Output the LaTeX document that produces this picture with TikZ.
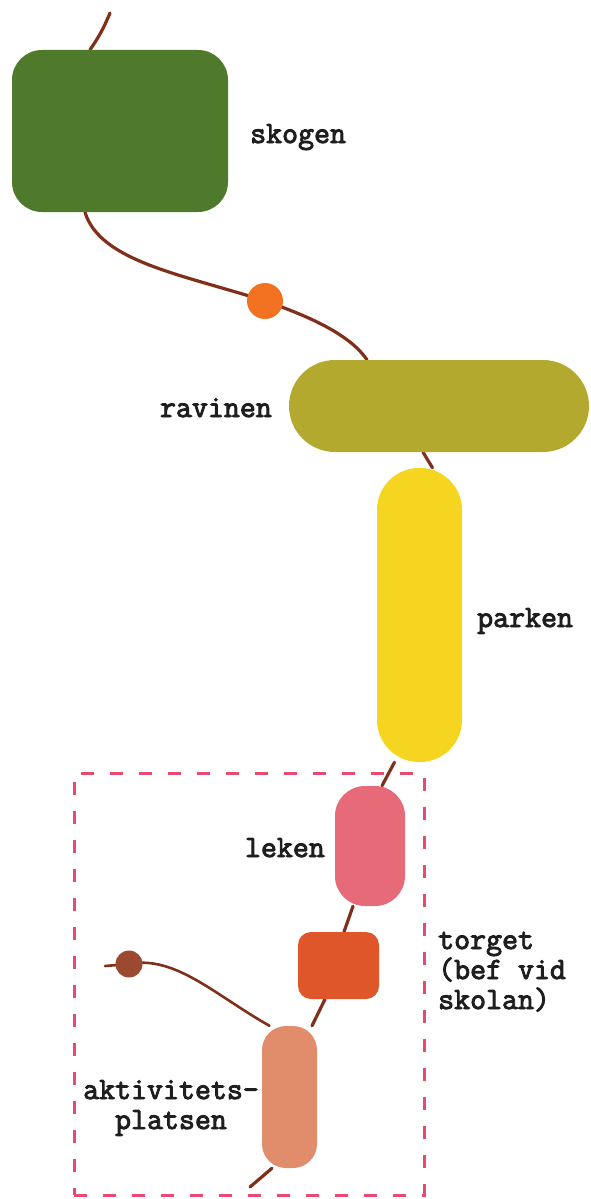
\documentclass[tikz,border=0pt]{standalone}
\usepackage{fontspec}
\newfontfamily\labfont[FakeBold=3]{Latin Modern Mono}
\usetikzlibrary{backgrounds}
\definecolor{cskog}{HTML}{4F7A2C}
\definecolor{crav}{HTML}{B4A92F}
\definecolor{cpark}{HTML}{F5D51F}
\definecolor{clek}{HTML}{E66A78}
\definecolor{ctorg}{HTML}{E0562B}
\definecolor{cakt}{HTML}{E18D6C}
\definecolor{cdotA}{HTML}{F37221}
\definecolor{cdotB}{HTML}{9B4A2F}
\definecolor{wire}{HTML}{80301A}
\definecolor{cframe}{HTML}{E84A72}
\definecolor{labtext}{HTML}{1E1E1E}
\begin{document}
\begin{tikzpicture}[x=1pt,y=-1pt,
  blob/.style={rectangle,inner sep=0pt,draw=none},
  bead/.style={circle,inner sep=0pt,draw=none},
  lab/.style={inner sep=0pt,font=\labfont\fontsize{31}{30}\selectfont,text=labtext},
  conn/.style={draw=wire,line width=3.2pt,line cap=round},
  zone/.style={rectangle,draw=cframe,line width=3pt,dash pattern=on 13pt off 16pt,inner sep=0pt}]
\useasboundingbox (0,0) rectangle (590,1199);
% frame
\node[zone,minimum width=350pt,minimum height=422pt] (frame) at (249,984) {};
% places
\node[blob,fill=cskog,minimum width=216pt,minimum height=162pt,rounded corners=30pt] (skogen) at (120,131) {};
\node[bead,fill=cdotA,minimum size=36pt] (dotA) at (265,301) {};
\node[blob,fill=crav,minimum width=300pt,minimum height=92pt,rounded corners=46pt] (ravinen) at (439,406) {};
\node[blob,fill=cpark,minimum width=85pt,minimum height=294pt,rounded corners=42pt] (parken) at (419.5,615) {};
\node[blob,fill=clek,minimum width=70pt,minimum height=120pt,rounded corners=30pt] (leken) at (370,846) {};
\node[blob,fill=ctorg,minimum width=81pt,minimum height=67pt,rounded corners=13pt] (torget) at (338.5,965.5) {};
\node[blob,fill=cakt,minimum width=55pt,minimum height=142pt,rounded corners=24pt] (aktiv) at (289.5,1097) {};
\node[bead,fill=cdotB,minimum size=27pt] (dotB) at (129,964) {};
% labels
\node[lab,anchor=base west] (tskogen) at (250,143) {skogen};
\node[lab,anchor=base east] (travinen) at (272,417) {ravinen};
\node[lab,anchor=base west] (tparken) at (477,627) {parken};
\node[lab,anchor=base east] (tleken) at (325,857) {leken};
\node[lab,anchor=base west,align=left] (ttorget) at (438,1009) {torget\\(bef vid\\skolan)};
\node[lab,anchor=base,align=center] (taktiv) at (171,1129) {aktivitets-\\platsen};
% connectors
\begin{scope}[on background layer]
\coordinate (topend) at (110,13);
\coordinate (botend) at (250,1187);
\coordinate (leftend) at (105,966);
\draw[conn] (topend) to[bend left=6] ([xshift=-30pt]skogen.north);
\draw[conn] ([xshift=-35pt]skogen.south) .. controls (100,262) and (185,275) .. (dotA.center)
  .. controls (320,320) and (352,338) .. ([xshift=-72pt]ravinen.north);
\draw[conn] ([xshift=-16pt]ravinen.south) -- ([xshift=13pt]parken.north);
\draw[conn] ([xshift=-25pt]parken.south) -- ([xshift=12pt]leken.north);
\draw[conn] ([xshift=-17pt]leken.south) -- ([xshift=5.5pt]torget.north);
\draw[conn] ([xshift=-13.5pt]torget.south) -- ([xshift=22.5pt]aktiv.north);
\draw[conn] ([xshift=-17.5pt]aktiv.south) -- (botend);
\draw[conn,line width=2.6pt] (leftend) -- (dotB.center) .. controls (175,955) and (215,995) .. ([xshift=-20pt]aktiv.north);
\end{scope}
\end{tikzpicture}
\end{document}
